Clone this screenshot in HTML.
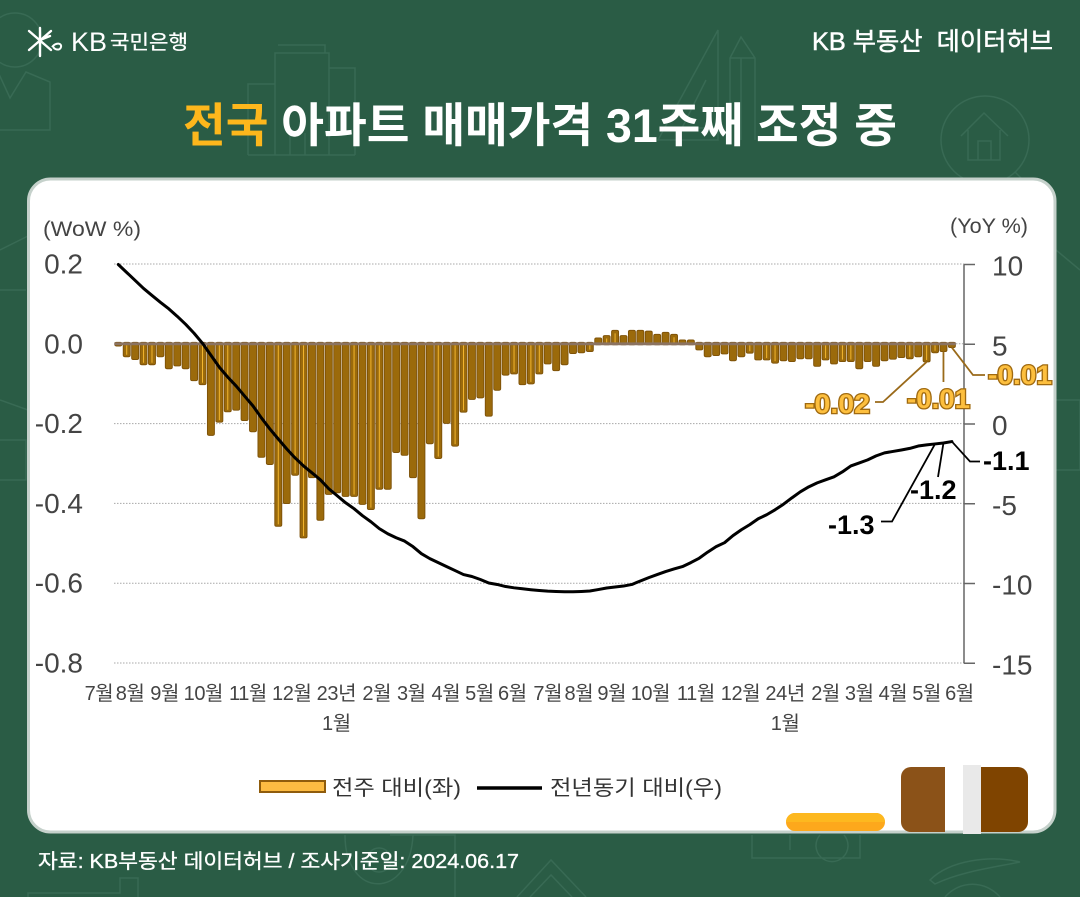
<!DOCTYPE html>
<html lang="ko">
<head>
<meta charset="utf-8">
<title>전국 아파트 매매가격 31주째 조정 중</title>
<style>
html,body{margin:0;padding:0;background:#2a5c45;}
body{width:1080px;height:897px;overflow:hidden;}
svg{display:block;}
text{font-family:"Liberation Sans","Noto Sans CJK KR",sans-serif;}
</style>
</head>
<body>
<svg id="chart" xmlns="http://www.w3.org/2000/svg" width="1080" height="897" viewBox="0 0 1080 897">
  <rect x="0" y="0" width="1080" height="897" fill="#2a5c45"/>

  <g fill="none" stroke="#386a54" stroke-width="1.5">
    <circle cx="15" cy="40" r="27"/>
    <path d="M-2 72 L10 98 L26 72 L50 82 L50 130 L-2 130"/>
    <path d="M248 155V84H275V53H329V155H248M355 155V68H329M355 155H329M278 45H325V53H278M275 155V84M305 155V133M290 155V133"/>
    <path d="M718 30L658 140H718ZM706 80L682 128H706"/>
    <path d="M730 140V58L741 37L755 58V140M730 58H755M741 58V140"/>
    <circle cx="985" cy="140" r="44"/>
    <path d="M961 136L984 113L1008 136M968 130V160H1000V130M978 160V141H991V160M1015 172L1040 197"/>
    <path d="M0 250L30 235M0 290H26M0 400L28 410M0 440H26V480H0M1056 250L1080 270M1056 400H1080V470H1056"/>
    <path d="M345 835C345 900 410 900 413 835M390 835H455V897M379 860m-12 0a12 12 0 1 0 24 0a12 12 0 1 0-24 0"/>
    <path d="M517 897L551 860L586 897M530 897L551 875L572 897"/>
    <path d="M752 835V858H860V835M790 835V850M820 835a16 16 0 1 0 24 0"/>
    <path d="M930 880C950 860 990 855 1020 862C990 868 960 872 935 884ZM945 897C960 880 985 880 1000 897"/>
    <path d="M28 897V893H120V878H138V897"/>
  </g>

  <g>
    <path d="M29 31L51 50M51 31L29 50M40 28V56M40 40L50 36" stroke="#fff" stroke-width="2.4" fill="none" stroke-linecap="round"/>
    <path d="M52 47C56 42 62 43 61 47C60 51 54 50 53 46" stroke="#fff" stroke-width="2" fill="none"/>
    <text x="71" y="51" font-size="27" fill="#fff">KB</text>
    <text x="110" y="49" font-size="20" fill="#fff" stroke="#fff" stroke-width="0.3" textLength="78" lengthAdjust="spacingAndGlyphs">국민은행</text>
  </g>
  <text x="812" y="50" font-size="25" fill="#fff" stroke="#fff" stroke-width="0.5" textLength="241" lengthAdjust="spacingAndGlyphs">KB 부동산&#160;&#160;데이터허브</text>
  <text x="183" y="142" font-size="47" font-weight="700" fill="#fff" textLength="714" lengthAdjust="spacingAndGlyphs"><tspan fill="#fdb71c">전국</tspan> 아파트 매매가격 31주째 조정 중</text>

  <rect x="28.5" y="179" width="1026.5" height="653" rx="22" ry="22" fill="#fff" stroke="#c5d1cb" stroke-width="3"/>

  <text x="43" y="236" font-size="21" fill="#444" textLength="98" lengthAdjust="spacingAndGlyphs">(WoW %)</text>
  <text x="950" y="233" font-size="21" fill="#444" textLength="78" lengthAdjust="spacingAndGlyphs">(YoY %)</text>

  <g id="grid"></g>
  <g id="left-ticks"></g>
  <g id="right-axis"></g>
  <g id="bars"></g>
  <g id="line-layer"></g>
  <g id="callouts"></g>
  <g id="x-ticks"></g>

  <g>
    <rect x="260" y="781" width="65" height="11" fill="#fcbb42" stroke="#8f5c0c" stroke-width="2"/>
    <text x="332" y="795" font-size="21" fill="#333" textLength="129" lengthAdjust="spacingAndGlyphs">전주 대비(좌)</text>
    <line x1="477" y1="788" x2="542" y2="788" stroke="#000" stroke-width="3.5"/>
    <text x="550" y="795" font-size="21" fill="#333" textLength="172" lengthAdjust="spacingAndGlyphs">전년동기 대비(우)</text>
  </g>

  <g>
    <rect x="786" y="813" width="99" height="18" rx="9" fill="#fda81c"/>
    <path d="M786 822a9 9 0 0 1 9-9h81a9 9 0 0 1 9 9Z" fill="#fdb81f"/>
    <path d="M945 767H911a10 10 0 0 0-10 10V822a10 10 0 0 0 10 10H945Z" fill="#8b5218"/>
    <path d="M981 767H1018a10 10 0 0 1 10 10V822a10 10 0 0 1-10 10H981Z" fill="#7f4400"/>
    <rect x="963" y="765" width="18" height="69" fill="#e9e9e9"/>
  </g>

  <text x="38" y="868" font-size="20" fill="#fff" stroke="#fff" stroke-width="0.35" textLength="481" lengthAdjust="spacingAndGlyphs">자료: KB부동산 데이터허브 / 조사기준일: 2024.06.17</text>
</svg>
<script>
// Chart data
const wowValues = [
  -0.003,-0.03,-0.037,-0.05,-0.05,-0.03,-0.06,-0.053,-0.06,-0.09,
  -0.10,-0.227,-0.194,-0.168,-0.164,-0.19,-0.218,-0.282,-0.30,-0.455,
  -0.398,-0.327,-0.484,-0.333,-0.44,-0.375,-0.371,-0.38,-0.38,-0.40,
  -0.413,-0.362,-0.362,-0.27,-0.277,-0.333,-0.436,-0.248,-0.285,-0.197,
  -0.254,-0.169,-0.137,-0.133,-0.179,-0.114,-0.076,-0.073,-0.10,-0.098,
  -0.073,-0.048,-0.065,-0.05,-0.022,-0.02,-0.017,0.011,0.017,0.03,
  0.017,0.03,0.03,0.028,0.02,0.025,0.02,0.006,0.006,-0.013,
  -0.03,-0.027,-0.023,-0.04,-0.03,-0.021,-0.038,-0.038,-0.046,-0.04,
  -0.042,-0.035,-0.035,-0.054,-0.038,-0.048,-0.042,-0.042,-0.06,-0.042,
  -0.054,-0.04,-0.036,-0.032,-0.035,-0.03,-0.043,-0.02,-0.017,-0.007
];
const yoyValues = [
  10.0,9.5,9.0,8.5,8.06,7.63,7.22,6.75,6.25,5.69,
  5.06,4.31,3.56,2.94,2.38,1.75,1.13,0.38,-0.31,-0.94,
  -1.56,-2.13,-2.63,-3.06,-3.5,-4.06,-4.5,-4.94,-5.31,-5.75,
  -6.13,-6.56,-6.88,-7.13,-7.34,-7.69,-8.13,-8.44,-8.69,-8.94,
  -9.19,-9.44,-9.56,-9.75,-9.97,-10.06,-10.19,-10.27,-10.33,-10.39,
  -10.44,-10.48,-10.5,-10.52,-10.52,-10.5,-10.47,-10.38,-10.28,-10.22,
  -10.16,-10.06,-9.84,-9.63,-9.44,-9.25,-9.09,-8.94,-8.69,-8.41,
  -8.03,-7.69,-7.44,-7.0,-6.63,-6.31,-5.94,-5.69,-5.38,-5.03,
  -4.63,-4.25,-3.94,-3.69,-3.5,-3.31,-3.0,-2.63,-2.44,-2.25,
  -2.0,-1.81,-1.72,-1.63,-1.53,-1.38,-1.31,-1.25,-1.19,-1.1
];
const monthLabels = ['7월','8월','9월','10월','11월','12월','23년','2월','3월','4월','5월','6월','7월','8월','9월','10월','11월','12월','24년','2월','3월','4월','5월','6월'];
const monthWeeks = [-2.3,1.4,5.5,10.1,15.4,20.6,25.9,30.7,34.8,38.9,42.9,46.8,51,54.7,58.6,63.2,68.6,73.9,79.2,84,88,92,96,99.9];
const leftTicks = [0.2,0.0,-0.2,-0.4,-0.6,-0.8];
const rightTicks = [10,5,0,-5,-10,-15];
const wowCalloutLabels = ['-0.02','-0.01','-0.01'];
const yoyCalloutLabels = ['-1.3','-1.2','-1.1'];

// Axis functions
const NS = 'http://www.w3.org/2000/svg';
function xScale(i){ return 118.3 + 8.42 * i; }
function yLeft(v){ return 343.8 - 399 * v; }
function yRight(v){ return 424 - 15.95 * v; }
function make(tag, parent){
  const el = document.createElementNS(NS, tag);
  parent.appendChild(el);
  return el;
}
function setAll(el, attrs){
  for (const k in attrs) el.setAttribute(k, attrs[k]);
}

// Gridlines
const gridG = document.getElementById('grid');
leftTicks.forEach(function(t){
  if (t === 0) return;
  const g = make('line', gridG);
  setAll(g, {x1:114, x2:964, y1:yLeft(t), y2:yLeft(t), stroke:'#a8a8a8', 'stroke-width':1, 'stroke-dasharray':'1.5 1.5'});
  
  
});

// Left axis
const leftG = document.getElementById('left-ticks');
leftTicks.forEach(function(t){
  const el = make('text', leftG);
  setAll(el, {x:83, y:yLeft(t) + 9.5, 'text-anchor':'end', 'font-size':28, fill:'#444'});
  el.textContent = t.toFixed(1);
  
  
});

// Right axis
const rightG = document.getElementById('right-axis');
const axisLine = make('line', rightG);
setAll(axisLine, {x1:964, x2:964, y1:yRight(10), y2:yRight(-15), stroke:'#666', 'stroke-width':1.5});


rightTicks.forEach(function(t){
  const tick = make('line', rightG);
  setAll(tick, {x1:964, x2:975, y1:yRight(t), y2:yRight(t), stroke:'#666', 'stroke-width':1.5});
  
  
  const el = make('text', rightG);
  setAll(el, {x:992, y:yRight(t) + 11, 'font-size':28, fill:'#444'});
  el.textContent = String(t);
  
  
});

// Bars
const barsG = document.getElementById('bars');
const zeroY = yLeft(0);
wowValues.forEach(function(v, i){
  const x = xScale(i);
  const yv = yLeft(v);
  const top = Math.min(yv, zeroY) - 1.5;
  const bottom = Math.max(yv, zeroY) + 1;
  const r = make('rect', barsG);
  setAll(r, {x:x - 3.5, y:top, width:7, height:bottom - top, rx:1.6, fill:'#9b6a0b', stroke:'#7c5007', 'stroke-width':0.9});
  
  
  const phase = Math.ceil(i % 9.33);
  if ((phase === 1 || phase === 3 || phase === 4) && bottom - top > 8) {
    const core = make('rect', barsG);
    setAll(core, {x:x - 0.5, y:top + 3, width:1, height:bottom - top - 5, fill:'#f3b62f'});
    
    
  }
});
const base = make('line', barsG);
setAll(base, {x1:xScale(0) - 4, x2:xScale(wowValues.length - 1) + 4, y1:zeroY, y2:zeroY, stroke:'#8b7361', 'stroke-width':2.8});


const baseExt = make('line', barsG);
setAll(baseExt, {x1:xScale(wowValues.length - 1) + 4, x2:964, y1:zeroY, y2:zeroY, stroke:'#a8a8a8', 'stroke-width':1, 'stroke-dasharray':'1.5 1.5'});



// Line
const lineG = document.getElementById('line-layer');
const lineEl = make('polyline', lineG);
setAll(lineEl, {
  points: yoyValues.map(function(v, i){ return xScale(i).toFixed(2) + ',' + yRight(v).toFixed(2); }).join(' '),
  fill:'none', stroke:'#000', 'stroke-width':3, 'stroke-linejoin':'round', 'stroke-linecap':'round'
});



// Callouts
const callG = document.getElementById('callouts');
const n = wowValues.length;
function wowLabel(text, x, y, w){
  const el = make('text', callG);
  setAll(el, {x:x, y:y, 'font-size':27, 'font-weight':700, fill:'#fdbf3e', stroke:'#a06a10', 'stroke-width':2.6, 'paint-order':'stroke', textLength:w, lengthAdjust:'spacingAndGlyphs'});
  el.textContent = text;
  
  
}
function yoyLabel(text, x, y){
  const el = make('text', callG);
  setAll(el, {x:x, y:y, 'font-size':27, 'font-weight':700, fill:'#000'});
  el.textContent = text;
  
  
}
function leader(points, color){
  const el = make('polyline', callG);
  setAll(el, {points:points.map(function(p){ return p[0] + ',' + p[1]; }).join(' '), fill:'none', stroke:color, 'stroke-width':1.8});
  
  
}
leader([[xScale(n - 4), yLeft(wowValues[n - 4]) + 1], [883, 402], [875, 402]], '#9a6a1a');
leader([[xScale(n - 2), yLeft(wowValues[n - 2]) + 1], [xScale(n - 2), 382]], '#9a6a1a');
leader([[xScale(n - 1), yLeft(wowValues[n - 1]) + 1], [973, 375], [985, 375]], '#9a6a1a');
wowLabel(wowCalloutLabels[0], 805, 413, 65);
wowLabel(wowCalloutLabels[1], 907, 408, 63);
wowLabel(wowCalloutLabels[2], 988, 384, 64);
leader([[xScale(n - 3), yRight(yoyValues[n - 3])], [892, 521.5], [881, 521.5]], '#000');
leader([[xScale(n - 2), yRight(yoyValues[n - 2])], [938, 477]], '#000');
leader([[xScale(n - 1), yRight(yoyValues[n - 1])], [970, 461.5], [980, 461.5]], '#000');
yoyLabel(yoyCalloutLabels[0], 828, 534);
yoyLabel(yoyCalloutLabels[1], 910, 499);
yoyLabel(yoyCalloutLabels[2], 983, 470);

// X labels
const xG = document.getElementById('x-ticks');
monthLabels.forEach(function(label, i){
  const yearLabel = label.indexOf('년') >= 0;
  const el = make('text', xG);
  setAll(el, {x:xScale(monthWeeks[i]), y:700, 'text-anchor':'middle', 'font-size':20, fill:'#444', 'letter-spacing':-0.4});
  el.textContent = label;
  
  
  if (yearLabel) {
    const second = make('text', xG);
    setAll(second, {x:xScale(monthWeeks[i]), y:730, 'text-anchor':'middle', 'font-size':20, fill:'#444', 'letter-spacing':-0.4});
    second.textContent = '1월';
    
    
  }
});
</script>
</body>
</html>
